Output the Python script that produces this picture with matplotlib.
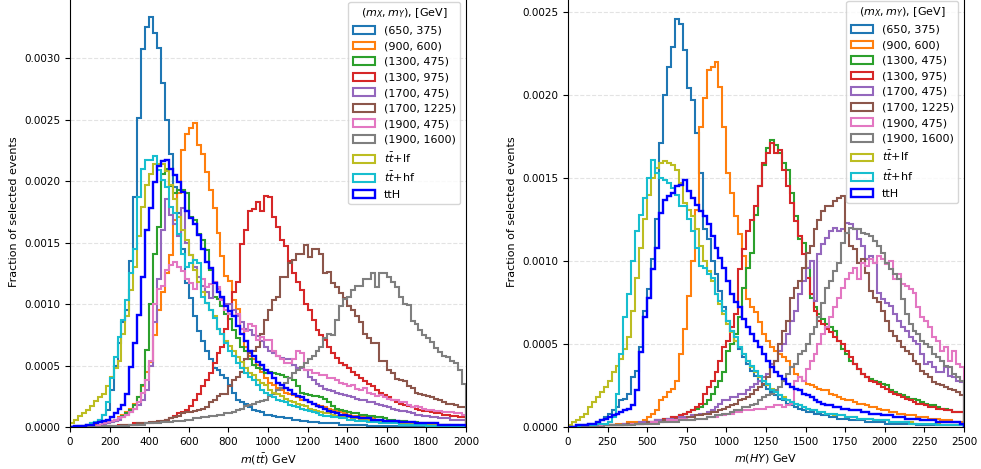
import numpy as np
import matplotlib
matplotlib.use("Agg")
import matplotlib.pyplot as plt
from matplotlib.ticker import FormatStrFormatter

# values are fractions in units of 1e-5, one entry per bin
SCALE = 1e-5

labels = ["(650, 375)", "(900, 600)", "(1300, 475)", "(1300, 975)", "(1700, 475)",
          "(1700, 1225)", "(1900, 475)", "(1900, 1600)", r"$t\bar{t}$+lf", r"$t\bar{t}$+hf", "ttH"]
colors = ["tab:blue", "tab:orange", "tab:green", "tab:red", "tab:purple", "tab:brown",
          "tab:pink", "tab:gray", "tab:olive", "tab:cyan", "blue"]

# ---- left panel: m(tt), 20 GeV bins from 0 to 2000 ----
mtt_edges = np.arange(0, 2001, 20)

mtt_650_375 = [0, 0, 1, 1, 2, 3, 4, 6, 10, 14,
               30, 50, 68, 85, 95, 135, 187, 251, 307, 325,
               333, 320, 308, 280, 250, 222, 195, 174, 145, 117,
               105, 90, 78, 70, 62, 55, 48, 46, 42, 40,
               34, 28, 22, 20, 19, 16, 14, 13, 12, 10,
               10, 9, 8, 8, 7, 7, 6, 6, 5, 5,
               4, 4, 4, 3, 3, 3, 3, 3, 2, 2,
               2, 2, 2, 2, 2, 1, 1, 1, 1, 1,
               1, 1, 1, 1, 1, 1, 1, 1, 1, 1,
               1, 1, 1, 1, 1, 1, 1, 1, 1, 1]
mtt_900_600 = [0, 0, 0, 1, 1, 1, 2, 2, 3, 4,
               5, 6, 8, 10, 12, 15, 19, 24, 33, 45,
               53, 75, 95, 110, 125, 140, 168, 190, 225, 238,
               243, 247, 229, 222, 207, 193, 178, 158, 139, 123,
               119, 103, 96, 80, 65, 58, 55, 50, 45, 40,
               36, 34, 32, 30, 28, 27, 26, 24, 22, 22,
               20, 19, 18, 17, 16, 15, 14, 13, 12, 11,
               10, 9, 9, 8, 8, 7, 7, 6, 6, 5,
               5, 5, 4, 4, 4, 3, 3, 3, 3, 2,
               2, 2, 2, 2, 2, 2, 1, 1, 1, 1]
mtt_1300_475 = [0, 0, 0, 0, 1, 1, 1, 2, 2, 3,
                4, 5, 7, 9, 11, 14, 18, 24, 34, 63,
                100, 141, 163, 206, 210, 196, 190, 193, 193, 190,
                171, 168, 157, 152, 144, 128, 106, 104, 98, 92,
                88, 79, 72, 65, 62, 55, 50, 48, 47, 44,
                45, 44, 43, 42, 41, 40, 38, 33, 28, 27,
                26, 25, 25, 24, 23, 20, 17, 15, 14, 13,
                12, 11, 11, 10, 10, 9, 9, 8, 8, 7,
                6, 6, 5, 5, 5, 4, 4, 4, 3, 3,
                3, 3, 2, 2, 2, 2, 2, 2, 1, 1]
mtt_1300_975 = [0, 0, 0, 0, 0, 1, 1, 1, 1, 1,
                1, 1, 2, 2, 2, 2, 3, 3, 3, 3,
                3, 4, 4, 5, 6, 7, 9, 11, 12, 14,
                17, 22, 27, 33, 38, 44, 52, 60, 65, 80,
                92, 110, 118, 149, 160, 176, 177, 183, 176, 188,
                187, 171, 163, 152, 147, 135, 125, 118, 111, 100,
                95, 87, 79, 75, 71, 65, 60, 56, 52, 50,
                48, 45, 42, 40, 37, 35, 33, 30, 28, 26,
                24, 22, 20, 19, 18, 17, 16, 15, 14, 13,
                13, 12, 11, 11, 10, 10, 9, 9, 8, 8]
mtt_1700_475 = [0, 0, 0, 0, 1, 1, 1, 2, 2, 3,
                4, 5, 6, 8, 10, 12, 15, 18, 22, 30,
                50, 85, 120, 160, 185, 172, 165, 155, 178, 150,
                140, 130, 122, 115, 110, 105, 118, 112, 104, 100,
                100, 95, 90, 85, 80, 79, 75, 74, 70, 65,
                62, 60, 58, 56, 55, 55, 50, 48, 48, 46,
                41, 38, 35, 33, 31, 30, 29, 28, 27, 26,
                25, 24, 23, 22, 22, 20, 20, 19, 18, 17,
                16, 15, 14, 13, 13, 12, 11, 10, 10, 9,
                9, 8, 8, 7, 7, 7, 6, 6, 6, 6]
mtt_1700_1225 = [0, 0, 0, 0, 0, 0, 0, 1, 1, 1,
                 1, 1, 1, 2, 2, 2, 2, 3, 3, 3,
                 4, 4, 5, 5, 6, 7, 8, 9, 11, 12,
                 12, 13, 14, 15, 16, 20, 22, 25, 27, 27,
                 33, 38, 41, 45, 55, 60, 62, 65, 76, 87,
                 95, 103, 106, 122, 122, 133, 136, 141, 141, 148,
                 138, 145, 145, 141, 125, 126, 117, 114, 109, 105,
                 98, 95, 90, 85, 76, 72, 68, 68, 54, 54,
                 46, 44, 39, 38, 37, 33, 32, 28, 27, 26,
                 25, 24, 23, 22, 20, 19, 19, 18, 16, 16]
mtt_1900_475 = [0, 0, 0, 1, 1, 1, 1, 2, 3, 4,
                5, 6, 7, 8, 10, 12, 15, 20, 28, 38,
                54, 100, 112, 115, 128, 132, 134, 130, 127, 120,
                117, 112, 118, 120, 114, 116, 118, 114, 103, 95,
                92, 90, 92, 80, 78, 84, 82, 71, 73, 71,
                71, 62, 58, 55, 52, 52, 55, 62, 60, 46,
                46, 44, 44, 42, 42, 40, 40, 38, 36, 35,
                33, 34, 31, 30, 32, 28, 27, 25, 26, 24,
                23, 22, 22, 20, 20, 18, 16, 17, 16, 15,
                14, 14, 13, 13, 12, 12, 12, 11, 11, 10]
mtt_1900_1600 = [0, 0, 0, 0, 0, 0, 0, 0, 1, 1,
                 1, 1, 1, 1, 1, 2, 2, 2, 2, 3,
                 3, 3, 3, 4, 4, 4, 5, 5, 5, 6,
                 6, 7, 7, 8, 8, 9, 9, 10, 10, 11,
                 11, 12, 14, 15, 17, 18, 19, 20, 21, 22,
                 25, 27, 30, 32, 36, 40, 44, 46, 49, 52,
                 55, 58, 62, 65, 72, 76, 75, 87, 98, 104,
                 106, 111, 115, 115, 120, 120, 125, 114, 125, 125,
                 122, 118, 114, 106, 100, 99, 86, 84, 79, 75,
                 72, 69, 64, 61, 58, 57, 54, 52, 46, 35]
mtt_ttlf = [3, 6, 9, 11, 14, 17, 21, 24, 27, 33,
            41, 48, 54, 76, 90, 111, 130, 155, 179, 197,
            206, 214, 214, 214, 208, 197, 185, 171, 160, 152,
            140, 128, 118, 110, 101, 95, 90, 80, 76, 70,
            66, 62, 57, 53, 48, 44, 42, 38, 36, 34,
            30, 28, 27, 25, 23, 21, 20, 19, 18, 17,
            15, 14, 13, 12, 11, 11, 10, 9, 9, 8,
            8, 7, 7, 6, 6, 6, 5, 5, 5, 4,
            4, 4, 4, 3, 3, 3, 3, 3, 2, 2,
            2, 2, 2, 2, 2, 2, 1, 1, 1, 1]
mtt_tthf = [0, 0, 1, 1, 2, 3, 4, 6, 10, 20,
            40, 57, 73, 87, 103, 125, 145, 187, 210, 217,
            217, 220, 209, 201, 195, 179, 174, 157, 141, 130,
            133, 136, 133, 106, 101, 95, 89, 80, 76, 68,
            62, 58, 52, 48, 44, 41, 38, 34, 30, 28,
            26, 24, 22, 21, 20, 18, 17, 16, 15, 14,
            13, 12, 11, 10, 9, 9, 8, 8, 7, 7,
            6, 6, 5, 5, 5, 4, 4, 4, 3, 3,
            3, 3, 3, 2, 2, 2, 2, 2, 2, 2,
            1, 1, 1, 1, 1, 1, 1, 1, 1, 1]
mtt_tth = [0, 1, 1, 1, 2, 2, 3, 4, 5, 6,
           8, 11, 15, 18, 27, 49, 68, 91, 122, 160,
           178, 199, 212, 216, 217, 210, 205, 199, 191, 176,
           170, 165, 156, 145, 134, 129, 117, 110, 106, 98,
           94, 90, 82, 76, 70, 62, 58, 53, 50, 46,
           44, 40, 36, 34, 32, 30, 27, 25, 24, 22,
           20, 19, 17, 16, 15, 13, 12, 11, 10, 10,
           9, 8, 8, 7, 7, 7, 6, 6, 6, 5,
           5, 5, 5, 4, 4, 4, 4, 3, 3, 3,
           3, 3, 3, 2, 2, 2, 2, 2, 2, 2]

# ---- right panel: m(HY), 25 GeV bins from 0 to 2500 ----
mhy_edges = np.arange(0, 2501, 25)

mhy_650_375 = [0, 0, 1, 1, 1, 2, 2, 3, 4, 6,
               8, 10, 12, 16, 17, 20, 30, 34, 48, 70,
               83, 101, 125, 171, 200, 217, 229, 246, 243, 227,
               204, 197, 177, 153, 119, 113, 100, 92, 82, 72,
               64, 58, 52, 47, 42, 38, 34, 31, 28, 25,
               23, 21, 19, 17, 16, 14, 13, 12, 11, 10,
               9, 9, 8, 8, 7, 7, 6, 6, 5, 5,
               5, 4, 4, 4, 4, 3, 3, 3, 3, 3,
               2, 2, 2, 2, 2, 2, 2, 2, 1, 1,
               1, 1, 1, 1, 1, 1, 1, 1, 1, 1]
mhy_900_600 = [0, 0, 0, 0, 1, 1, 1, 1, 1, 1,
               1, 1, 2, 2, 2, 3, 3, 3, 3, 4,
               6, 8, 10, 16, 18, 21, 23, 28, 44, 59,
               79, 100, 131, 181, 198, 215, 217, 220, 205, 181,
               153, 141, 127, 116, 103, 77, 72, 69, 63, 56,
               52, 48, 46, 44, 42, 40, 36, 32, 30, 28,
               26, 25, 24, 23, 22, 22, 20, 19, 18, 17,
               16, 16, 15, 14, 14, 13, 12, 12, 11, 10,
               10, 9, 9, 8, 8, 7, 7, 7, 6, 6,
               6, 5, 5, 5, 4, 4, 4, 3, 3, 3]
mhy_1300_475 = [0, 0, 0, 0, 0, 0, 0, 1, 1, 1,
                1, 1, 1, 1, 1, 2, 2, 2, 2, 3,
                3, 3, 4, 4, 5, 5, 6, 6, 7, 8,
                9, 10, 11, 12, 14, 16, 20, 24, 28, 33,
                46, 50, 56, 66, 84, 96, 105, 128, 145, 158,
                168, 173, 170, 165, 159, 155, 141, 127, 113, 111,
                96, 78, 72, 68, 65, 62, 60, 58, 52, 47,
                44, 40, 38, 35, 32, 30, 29, 28, 27, 26,
                25, 22, 21, 20, 19, 18, 17, 17, 16, 15,
                14, 13, 13, 12, 11, 11, 10, 9, 9, 9]
mhy_1300_975 = [0, 0, 0, 0, 0, 0, 0, 1, 1, 1,
                1, 1, 1, 1, 2, 2, 2, 2, 2, 3,
                3, 3, 4, 4, 5, 5, 6, 6, 7, 8,
                9, 10, 12, 14, 20, 24, 28, 33, 40, 48,
                52, 60, 68, 95, 107, 118, 125, 133, 145, 159,
                165, 171, 165, 167, 155, 145, 135, 124, 115, 104,
                90, 80, 70, 64, 62, 59, 57, 54, 52, 50,
                46, 42, 38, 35, 32, 30, 28, 27, 26, 24,
                23, 21, 20, 19, 18, 17, 16, 15, 14, 14,
                13, 12, 12, 11, 11, 10, 10, 9, 9, 9]
mhy_1700_475 = [0, 0, 0, 0, 0, 0, 0, 1, 1, 1,
                1, 1, 1, 1, 2, 2, 2, 2, 3, 3,
                3, 3, 4, 4, 4, 5, 5, 5, 6, 6,
                6, 7, 7, 8, 8, 9, 10, 12, 14, 16,
                16, 18, 18, 20, 20, 22, 24, 26, 28, 30,
                32, 38, 40, 46, 50, 56, 64, 70, 80, 88,
                96, 100, 76, 104, 110, 114, 118, 120, 118, 119,
                123, 122, 119, 113, 109, 101, 103, 99, 81, 77,
                75, 73, 68, 64, 60, 58, 54, 52, 50, 44,
                38, 39, 36, 33, 33, 36, 31, 30, 28, 27]
mhy_1700_1225 = [0, 0, 0, 0, 0, 0, 0, 0, 1, 1,
                 1, 1, 1, 1, 1, 2, 2, 2, 2, 2,
                 3, 3, 3, 3, 4, 4, 4, 5, 5, 5,
                 6, 6, 7, 7, 8, 8, 9, 9, 10, 11,
                 12, 13, 14, 16, 17, 18, 20, 22, 24, 26,
                 30, 36, 40, 50, 58, 64, 78, 84, 88, 96,
                 105, 109, 119, 125, 130, 133, 133, 136, 138, 139,
                 117, 109, 107, 99, 101, 93, 82, 78, 75, 70,
                 64, 58, 55, 52, 48, 46, 44, 40, 38, 34,
                 32, 30, 27, 26, 25, 24, 23, 22, 21, 19]
mhy_1900_475 = [0, 0, 0, 0, 0, 0, 0, 0, 1, 1,
                1, 1, 1, 1, 1, 1, 2, 2, 2, 2,
                2, 3, 3, 3, 3, 4, 4, 4, 5, 5,
                4, 4, 5, 5, 5, 6, 6, 6, 7, 7,
                8, 8, 9, 9, 10, 10, 10, 11, 11, 11,
                12, 12, 13, 13, 12, 13, 14, 28, 30, 28,
                35, 40, 44, 50, 56, 60, 66, 72, 78, 84,
                89, 93, 96, 89, 99, 97, 101, 99, 103, 101,
                98, 100, 89, 92, 86, 85, 83, 81, 72, 66,
                64, 60, 54, 52, 46, 48, 40, 46, 38, 36]
mhy_1900_1600 = [0, 0, 0, 0, 0, 0, 0, 0, 0, 1,
                 1, 1, 1, 1, 1, 1, 1, 2, 2, 2,
                 2, 2, 2, 3, 3, 3, 3, 3, 4, 4,
                 4, 4, 5, 5, 5, 6, 6, 7, 7, 8,
                 8, 9, 10, 10, 12, 12, 13, 14, 16, 18,
                 19, 20, 22, 24, 28, 32, 36, 38, 44, 46,
                 50, 56, 60, 66, 75, 84, 88, 94, 99, 111,
                 117, 120, 119, 119, 117, 116, 115, 112, 109, 105,
                 99, 95, 92, 89, 77, 68, 62, 58, 56, 52,
                 50, 48, 44, 42, 40, 37, 36, 32, 30, 28]
mhy_ttlf = [1, 3, 4, 6, 8, 12, 15, 18, 21, 24,
            28, 33, 37, 41, 47, 54, 70, 90, 108, 125,
            140, 150, 156, 159, 160, 159, 158, 155, 147, 135,
            131, 127, 119, 109, 100, 94, 88, 80, 74, 68,
            62, 57, 52, 48, 44, 40, 36, 33, 30, 28,
            25, 23, 21, 19, 18, 16, 15, 14, 13, 12,
            11, 10, 10, 9, 9, 8, 8, 7, 7, 7,
            6, 6, 6, 5, 5, 5, 5, 4, 4, 4,
            4, 3, 3, 3, 3, 3, 3, 2, 2, 2,
            2, 2, 2, 2, 1, 1, 1, 1, 1, 1]
mhy_tthf = [0, 0, 0, 1, 1, 1, 1, 2, 2, 2,
            3, 6, 20, 44, 66, 80, 100, 118, 128, 138,
            150, 161, 153, 150, 149, 147, 144, 140, 133, 133,
            125, 118, 108, 97, 96, 92, 90, 80, 76, 70,
            64, 58, 54, 48, 44, 40, 37, 34, 31, 28,
            26, 22, 21, 19, 17, 16, 15, 14, 13, 12,
            11, 10, 10, 9, 9, 8, 8, 8, 7, 7,
            6, 6, 6, 5, 5, 5, 5, 4, 4, 4,
            4, 3, 3, 3, 3, 3, 2, 2, 2, 2,
            2, 2, 2, 1, 1, 1, 1, 1, 1, 1]
mhy_tth = [0, 0, 1, 1, 1, 2, 2, 3, 4, 5,
           6, 7, 8, 9, 10, 11, 13, 22, 45, 66,
           78, 95, 108, 129, 137, 139, 141, 145, 146, 149,
           142, 138, 134, 130, 127, 122, 115, 108, 102, 96,
           88, 80, 75, 72, 65, 60, 56, 52, 48, 44,
           40, 36, 33, 31, 29, 26, 24, 23, 22, 20,
           19, 18, 16, 15, 14, 13, 13, 12, 12, 11,
           11, 10, 10, 10, 9, 9, 8, 8, 8, 7,
           7, 7, 6, 6, 6, 5, 5, 5, 5, 4,
           4, 4, 4, 3, 3, 3, 3, 3, 3, 2]

mtt_series = [mtt_650_375, mtt_900_600, mtt_1300_475, mtt_1300_975, mtt_1700_475, mtt_1700_1225,
              mtt_1900_475, mtt_1900_1600, mtt_ttlf, mtt_tthf, mtt_tth]
mhy_series = [mhy_650_375, mhy_900_600, mhy_1300_475, mhy_1300_975, mhy_1700_475, mhy_1700_1225,
              mhy_1900_475, mhy_1900_1600, mhy_ttlf, mhy_tthf, mhy_tth]


def draw_panel(ax, series, edges, xmax, xticks, ymax, yticks, xlabel):
    for vals, lab, col in zip(series, labels, colors):
        vals = np.asarray(vals, dtype=float) * SCALE
        e = edges[:len(vals) + 1]
        lw = 1.7 if lab == "ttH" else 1.5
        ax.hist(e[:-1], bins=e, weights=vals, histtype="step", color=col, lw=lw, label=lab)
    ax.set_xlim(0, xmax)
    ax.set_ylim(0, ymax)
    ax.set_xticks(xticks)
    ax.set_yticks(yticks)
    ax.yaxis.set_major_formatter(FormatStrFormatter("%.4f"))
    ax.tick_params(labelsize=7.5)
    ax.grid(axis="y", linestyle="--", alpha=0.35)
    ax.set_axisbelow(True)
    ax.set_xlabel(xlabel, fontsize=8)
    ax.set_ylabel("Fraction of selected events", fontsize=8)
    ax.legend(loc="upper right", title=r"$(m_X, m_Y)$, [GeV]", fontsize=8, title_fontsize=8)


fig = plt.figure(figsize=(9.81, 4.69), dpi=100)
ax1 = fig.add_axes([70 / 981, 42 / 469, 396 / 981, 430.5 / 469])
ax2 = fig.add_axes([568 / 981, 42 / 469, 396 / 981, 431.6 / 469])

draw_panel(ax1, mtt_series, mtt_edges, 2000, np.arange(0, 2001, 200),
           0.0035, np.arange(0, 0.00301, 0.0005), r"$m(t\bar{t})$ GeV")
draw_panel(ax2, mhy_series, mhy_edges, 2500, np.arange(0, 2501, 250),
           0.0026, np.arange(0, 0.00251, 0.0005), r"$m(HY)$ GeV")

fig.savefig("out.png", dpi=100)
